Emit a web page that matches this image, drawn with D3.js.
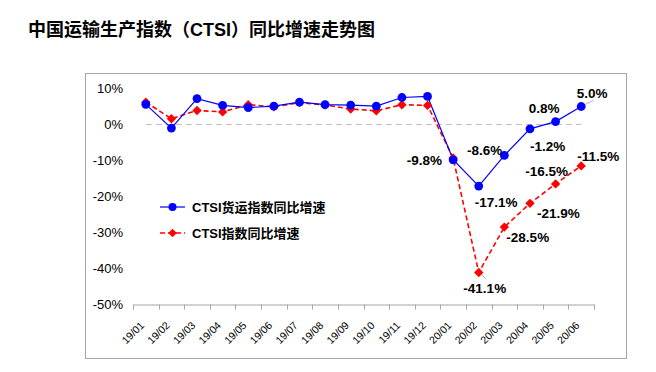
<!DOCTYPE html>
<html>
<head>
<meta charset="utf-8">
<script src="https://cdn.jsdelivr.net/npm/d3@7"></script>
<style>
body{margin:0;background:#fff}
svg{display:block}
text{font-family:"Liberation Sans",Arial,"Noto Sans CJK SC",sans-serif}
</style>
</head>
<body>
<div id="container"></div>
<script>
var months = ["19/01","19/02","19/03","19/04","19/05","19/06","19/07","19/08","19/09","19/10","19/11","19/12","20/01","20/02","20/03","20/04","20/05","20/06"]
var freight = [5.6,-1.0,7.2,5.3,4.7,5.1,6.2,5.5,5.4,5.1,7.5,7.8,-9.8,-17.1,-8.6,-1.2,0.8,5.0]
var ctsi = [6.2,1.6,3.9,3.5,5.5,4.9,6.1,5.4,4.3,3.8,5.5,5.3,-9.3,-41.1,-28.5,-21.9,-16.5,-11.5]
var yTicks = [10,0,-10,-20,-30,-40,-50]
var seriesNames = ["CTSI货运指数同比增速","CTSI指数同比增速"]

var w = 656
var h = 372

var svg = d3.select("#container").append("svg").attr("width",w).attr("height",h)

svg.append("text").text("中国运输生产指数（CTSI）同比增速走势图")
    .attr("x",28).attr("y",36)
    .attr("font-size","18px").attr("font-weight","bold").attr("fill","#000")

// chart frame
svg.append("rect").attr("x",85.5).attr("y",73.5).attr("width",541).attr("height",285)
    .attr("fill","none").attr("stroke","#a6a6a6").attr("stroke-width",1)

var xScale = d3.scaleBand().domain(months).range([133,594])
var yScale = d3.scaleLinear().domain([-50,10]).range([304.5,88.5])
var cx = function(i){return xScale(months[i])+xScale.bandwidth()/2}

// y labels only, no axis line
var yAxis = d3.axisLeft().scale(yScale).tickValues(yTicks).tickSize(0).tickPadding(0)
    .tickFormat(function(d){return d+"%"})
var gy = svg.append("g").attr("transform","translate(123,0)").call(yAxis)
gy.select(".domain").remove()
gy.selectAll("text").attr("font-size","13px").attr("fill","#000")
    .attr("font-family","'Liberation Sans',Arial,sans-serif")

// x axis at bottom
var xAxis = d3.axisBottom().scale(xScale).tickSize(5).tickSizeOuter(5).tickFormat("")
var gx = svg.append("g").attr("transform","translate(0,304.5)").call(xAxis)
gx.select(".domain").attr("stroke","#a6a6a6")
gx.selectAll(".tick").remove()
var edges = months.map(function(d){return xScale(d)}).concat([594])
gx.selectAll(".edge").data(edges).enter().append("line")
    .attr("x1",function(d){return Math.round(d)+0.5}).attr("x2",function(d){return Math.round(d)+0.5})
    .attr("y1",0).attr("y2",5).attr("stroke","#a6a6a6")

svg.append("g").selectAll("text").data(months).enter().append("text")
    .text(function(d){return d})
    .attr("text-anchor","end")
    .attr("font-size","10.5px")
    .attr("transform",function(d,i){return "translate("+(cx(i)-1)+",326) rotate(-45)"})

// zero dashed line
svg.append("line").attr("x1",cx(0)).attr("x2",cx(months.length-1))
    .attr("y1",yScale(0)).attr("y2",yScale(0))
    .attr("stroke","#bfbfbf").attr("stroke-width",1.2).attr("stroke-dasharray","6,4")

// leader lines
svg.append("line").attr("x1",cx(17)).attr("y1",yScale(freight[17]))
    .attr("x2",cx(17)+12).attr("y2",yScale(freight[17])-6).attr("stroke","#b0b0b0")
svg.append("line").attr("x1",cx(13)).attr("y1",yScale(ctsi[13]))
    .attr("x2",cx(13)+7).attr("y2",yScale(ctsi[13])+6).attr("stroke","#b0b0b0")

var line = d3.line().x(function(d,i){return cx(i)}).y(function(d){return yScale(d)})

svg.append("path").attr("d",line(ctsi)).attr("fill","none")
    .attr("stroke","#ff0000").attr("stroke-width",1.6).attr("stroke-dasharray","5,3")
svg.append("path").attr("d",line(freight)).attr("fill","none")
    .attr("stroke","#0000ff").attr("stroke-width",1.2)

svg.append("g").selectAll("path").data(ctsi).enter().append("path")
    .attr("d",d3.symbol().type(d3.symbolSquare).size(44))
    .attr("transform",function(d,i){return "translate("+cx(i)+","+yScale(d)+") rotate(45)"})
    .attr("fill","#ff0000")

svg.append("g").selectAll("circle").data(freight).enter().append("circle")
    .attr("cx",function(d,i){return cx(i)}).attr("cy",function(d){return yScale(d)})
    .attr("r",4.4).attr("fill","#0000ff")

// data labels: [series, index, dx, dy, anchor]
var labelPos = [
    [freight,12,-11,5,"end"],
    [freight,13,-4,21,"start"],
    [freight,14,-2,0,"end"],
    [freight,15,0,22,"start"],
    [freight,16,4,-9,"end"],
    [freight,17,11,-9,"middle"],
    [ctsi,13,6,21,"middle"],
    [ctsi,14,2,15,"start"],
    [ctsi,15,7,15,"start"],
    [ctsi,16,-9,-8,"middle"],
    [ctsi,17,17,-5,"middle"]
]
svg.append("g").selectAll("text").data(labelPos).enter().append("text")
    .text(function(d){return d[0][d[1]].toFixed(1)+"%"})
    .attr("x",function(d){return cx(d[1])+d[2]})
    .attr("y",function(d){return yScale(d[0][d[1]])+d[3]})
    .attr("text-anchor",function(d){return d[4]})
    .attr("font-size","13.5px").attr("font-weight","bold").attr("fill","#000")

// legend
var leg = svg.append("g").attr("transform","translate(160,207)")
leg.append("line").attr("x1",0).attr("x2",25).attr("stroke","#0000ff").attr("stroke-width",1.2)
leg.append("circle").attr("cx",12.5).attr("cy",0).attr("r",4).attr("fill","#0000ff")
leg.append("text").text(seriesNames[0]).attr("x",32).attr("y",5)
    .attr("font-size","13px").attr("font-weight","bold")
var leg2 = svg.append("g").attr("transform","translate(160,233)")
leg2.append("line").attr("x1",0).attr("x2",25).attr("stroke","#ff0000").attr("stroke-width",1.6).attr("stroke-dasharray","5,3")
leg2.append("path").attr("d",d3.symbol().type(d3.symbolSquare).size(36)).attr("transform","translate(12.5,0) rotate(45)").attr("fill","#ff0000")
leg2.append("text").text(seriesNames[1]).attr("x",32).attr("y",5)
    .attr("font-size","13px").attr("font-weight","bold")
</script>
</body>
</html>
